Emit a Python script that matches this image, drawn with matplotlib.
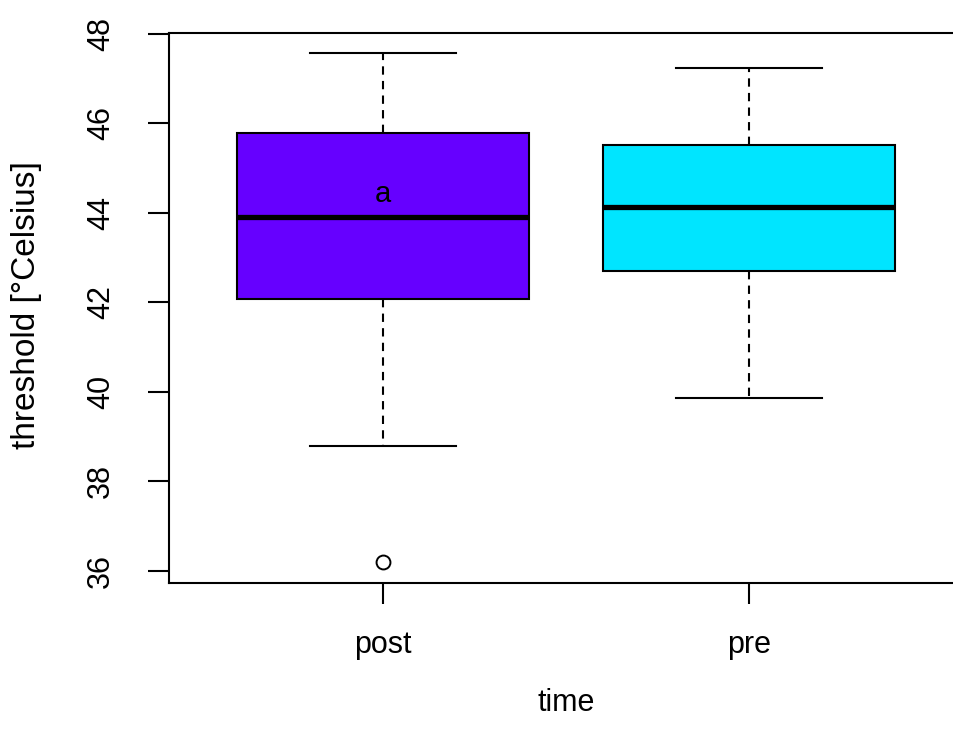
import matplotlib
matplotlib.use("Agg")
import matplotlib.pyplot as plt

# values (R base boxplot)
groups = ["post", "pre"]
whislo = [38.78, 39.87]
q1 = [42.08, 42.70]
med = [43.90, 44.13]
q3 = [45.78, 45.51]
whishi = [47.58, 47.23]
fliers = [[36.21], []]
box_colors = ["#6600FF", "#00E5FF"]
yticks = [36, 38, 40, 42, 44, 46, 48]
annot_text = "a"
annot_y = 44.43

plt.rcParams['font.family'] = ['Liberation Sans', 'DejaVu Sans']

fig = plt.figure(figsize=(9.54, 7.44), dpi=100)
# right edge of the frame sits just outside the picture, as in the reference
ax = fig.add_axes([0.1771, 0.2164, 0.8323, 0.7399])

stats = []
for i, g in enumerate(groups):
    stats.append(dict(label=g, whislo=whislo[i], q1=q1[i], med=med[i],
                      q3=q3[i], whishi=whishi[i], fliers=fliers[i]))

bp = ax.bxp(stats, positions=[1, 2], widths=0.8, capwidths=0.4,
            patch_artist=True, showfliers=True,
            boxprops=dict(edgecolor="black", linewidth=1.5),
            medianprops=dict(color="black", linewidth=3.8, solid_capstyle="butt"),
            whiskerprops=dict(color="black", linewidth=1.5, linestyle=(0, (4, 3))),
            capprops=dict(color="black", linewidth=1.5),
            flierprops=dict(marker="o", markersize=10, markerfacecolor="none",
                            markeredgecolor="black", markeredgewidth=1.4))
for patch, c in zip(bp["boxes"], box_colors):
    patch.set_facecolor(c)

ax.text(1, annot_y, annot_text, ha="center", va="center", fontsize=21, color="black")

ax.set_xlim(0.415, 2.585)
ax.set_ylim(35.73, 48.03)
ax.set_yticks(yticks)
ax.set_yticklabels([str(t) for t in yticks], rotation=90, va="center")
ax.set_xticks([1, 2])
ax.set_xticklabels(groups)

ax.tick_params(axis="both", direction="out", length=15, width=1.5,
               labelsize=22, colors="black")
ax.tick_params(axis="y", pad=23)
ax.tick_params(axis="x", pad=19)
for s in ax.spines.values():
    s.set_linewidth(1.5)

ax.set_xlabel("time", fontsize=22, va="center")
ax.set_ylabel("threshold [°Celsius]", fontsize=24, va="center")
ax.xaxis.set_label_coords(0.5, -0.218)
ax.yaxis.set_label_coords(-0.179, 0.505)

fig.savefig("out.png", dpi=100)
